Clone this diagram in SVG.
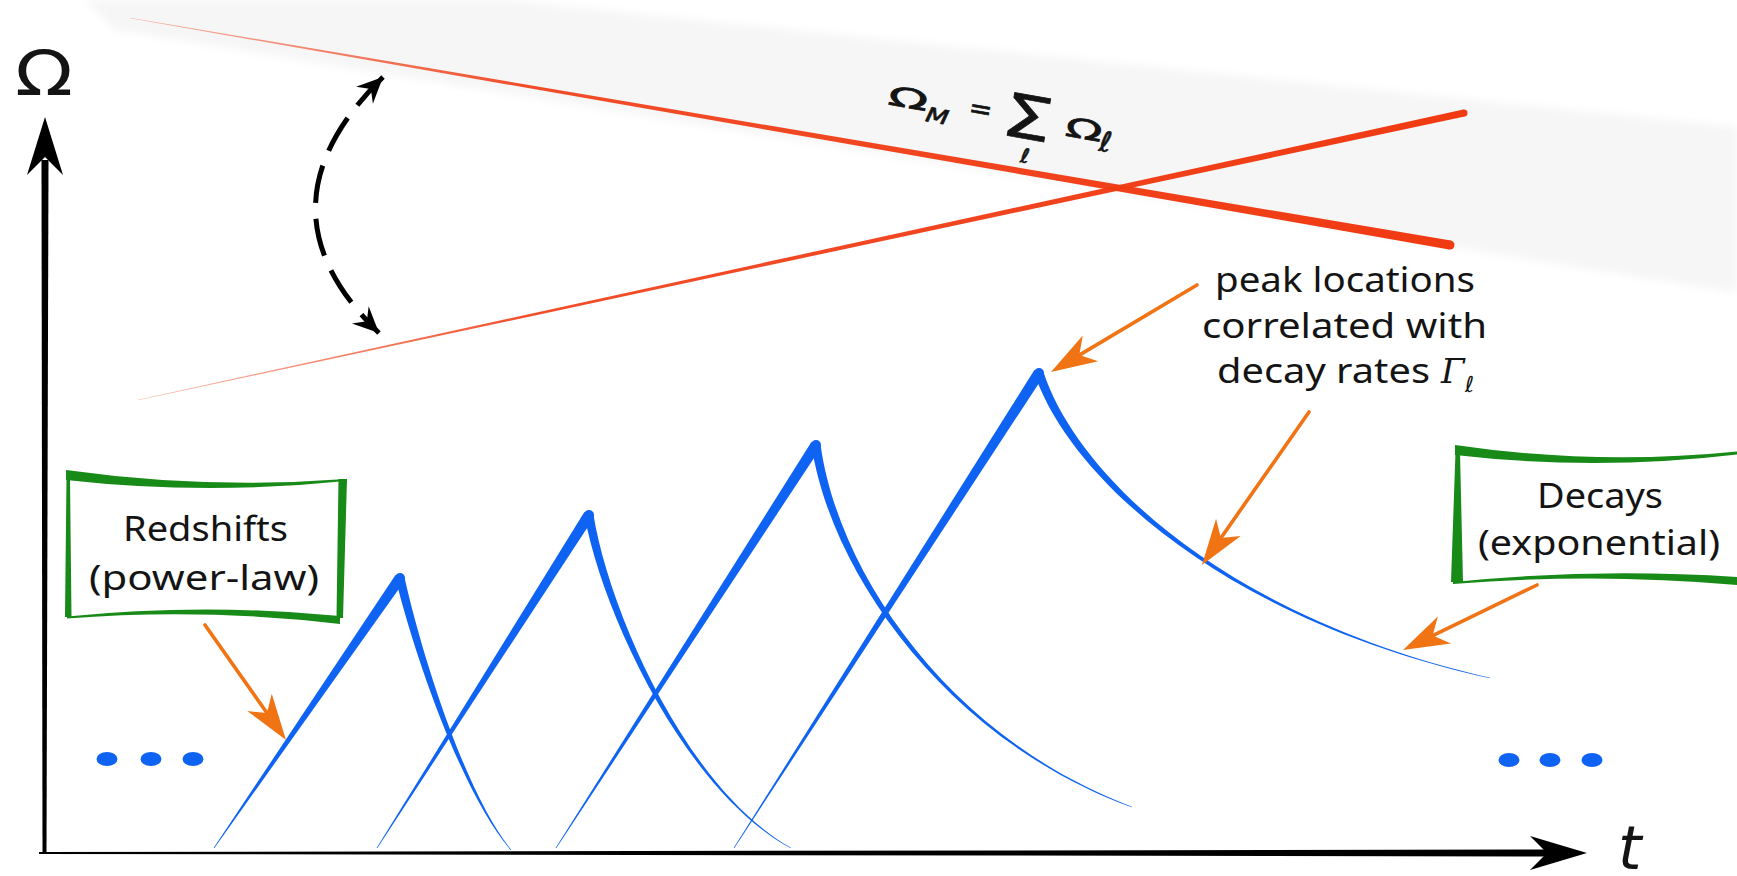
<svg xmlns="http://www.w3.org/2000/svg" width="1737" height="876" viewBox="0 0 1737 876">
<defs>
<style>
.lbl{font-family:"Noto Sans","DejaVu Sans",sans-serif;fill:#141414}
.math{font-family:"DejaVu Sans",sans-serif;fill:#141414}
.fm{font-family:"DejaVu Sans",sans-serif;fill:#141414;stroke:#141414;stroke-width:0.7}
.blue{fill:#0f63f2}
.green{fill:#188a18}
.oarrow{fill:none;stroke:#f07314;stroke-width:3.6;stroke-linecap:round;marker-end:url(#oa)}
</style>
<filter id="soft" x="-5%" y="-20%" width="110%" height="140%"><feGaussianBlur stdDeviation="4"/></filter>
<linearGradient id="gUp" gradientUnits="userSpaceOnUse" x1="130" y1="18" x2="1450" y2="245"><stop offset="0" stop-color="#f03a12" stop-opacity="0.35"/><stop offset="0.3" stop-color="#f03a12" stop-opacity="0.9"/><stop offset="1" stop-color="#f03a12"/></linearGradient>
<linearGradient id="gLo" gradientUnits="userSpaceOnUse" x1="138" y1="400" x2="1464" y2="113"><stop offset="0" stop-color="#f03a12" stop-opacity="0.35"/><stop offset="0.3" stop-color="#f03a12" stop-opacity="0.9"/><stop offset="1" stop-color="#f03a12"/></linearGradient>
<marker id="oa" markerUnits="userSpaceOnUse" viewBox="-50 -20 60 40" markerWidth="60" markerHeight="40" refX="-33" refY="0" orient="auto" overflow="visible"><path d="M0,0 L-46,-15 L-33,0 L-46,15 Z" fill="#f07314"/></marker>
<marker id="ka" markerUnits="userSpaceOnUse" viewBox="-30 -15 35 30" markerWidth="35" markerHeight="30" refX="0" refY="0" orient="auto-start-reverse" overflow="visible"><path d="M0,0 L-26,-12 L-17,0 L-26,12 Z" fill="#000"/></marker>
</defs>
<rect width="1737" height="876" fill="#fff"/>

<g id="band">
<polygon points="85,0 503,0 1737,127 1737,293 115,30" fill="#f6f6f6" filter="url(#soft)"/>
</g>

<g id="axes">
<polygon points="41.5,160 48.5,160 46.5,853 42.5,853" fill="#000"/>
<polygon points="45,117 63,175 45,157 27,175" fill="#000"/>
<polygon points="39,852 1550,849.5 1550,856.5 39,854" fill="#000"/>
<polygon points="1587,853 1530,836 1547,853 1530,870" fill="#000"/>
<text class="math" x="15" y="95" font-size="62" textLength="58" lengthAdjust="spacingAndGlyphs">Ω</text>
<text class="math" x="1618" y="869" font-size="60" font-style="italic">t</text>
</g>

<g id="red-lines">
<polygon points="129.95,18.3 1449.2,249.4 1450.8,240.6 130.05,17.7" fill="url(#gUp)"/>
<circle cx="1450" cy="245" r="4.5" fill="#f03a12"/>
<polygon points="138.06,400.29 1464.7,116.4 1463.3,109.6 137.94,399.71" fill="url(#gLo)"/>
<circle cx="1464" cy="113" r="3.5" fill="#f03a12"/>
</g>

<g id="formula" transform="rotate(10 1000 120)">
<text class="fm" x="886" y="124" font-size="27" textLength="40" lengthAdjust="spacingAndGlyphs">Ω</text>
<text class="fm" x="926" y="134" font-size="20" font-style="italic" textLength="23" lengthAdjust="spacingAndGlyphs">M</text>
<text class="fm" x="979" y="122" font-size="28" text-anchor="middle">=</text>
<text class="fm" x="1027" y="134" font-size="60" text-anchor="middle" textLength="50" lengthAdjust="spacingAndGlyphs">Σ</text>
<text class="fm" x="1031" y="158" font-size="20" text-anchor="middle">ℓ</text>
<text class="fm" x="1066" y="124" font-size="27" textLength="37" lengthAdjust="spacingAndGlyphs">Ω</text>
<text class="fm" x="1102" y="133" font-size="28">ℓ</text>
</g>

<g id="peak1">
<polygon class="blue" points="214.25,848.17 404.53,581.12 395.47,574.88 213.75,847.83"/>
<path class="blue" d="M404.4,577 C423.4,661.2 466.2,794 511.2,849.8 L510.8,850.2 C463.8,796 416.6,662.8 395.6,579 Z"/>
<circle class="blue" cx="400" cy="578" r="5"/>
</g>
<g id="peak2">
<polygon class="blue" points="377.25,848.16 593.64,517.95 584.36,512.05 376.75,847.84"/>
<path class="blue" d="M593.4,514.3 C608.5,609.4 685.7,788.7 791.1,847.7 L790.9,848.3 C684.3,791.3 601.6,610.6 584.6,515.7 Z"/>
<circle class="blue" cx="589" cy="515" r="5"/>
</g>
<g id="peak3">
<polygon class="blue" points="556.25,848.16 820.62,447.98 811.38,442.02 555.75,847.84"/>
<path class="blue" d="M820.5,444.4 C838.5,574.5 950.5,738.6 1132.1,806.7 L1131.9,807.3 C949.5,741.4 831.5,575.5 811.5,445.6 Z"/>
<circle class="blue" cx="816" cy="445" r="5"/>
</g>
<g id="peak4">
<polygon class="blue" points="734.25,848.16 1043.63,375.97 1034.37,370.03 733.75,847.84"/>
<path class="blue" d="M1043.3,371.6 C1078.3,478.9 1230.3,618.5 1490.1,677.7 L1489.9,678.3 C1229.7,621.5 1071.7,481.1 1034.7,374.4 Z"/>
<circle class="blue" cx="1039" cy="373" r="5"/>
</g>

<g id="dots-left">
<ellipse class="blue" cx="107" cy="759" rx="10.5" ry="7"/>
<ellipse class="blue" cx="151" cy="759" rx="10.5" ry="7"/>
<ellipse class="blue" cx="193" cy="759" rx="10.5" ry="7"/>
</g>
<g id="dots-right">
<ellipse class="blue" cx="1509" cy="760" rx="10.5" ry="7"/>
<ellipse class="blue" cx="1550" cy="760" rx="10.5" ry="7"/>
<ellipse class="blue" cx="1592" cy="760" rx="10.5" ry="7"/>
</g>

<g id="redshifts-box">
<path class="green" d="M66,470 Q205,489.5 346,479 L346,481 Q205,495.5 66,480 Z"/>
<path class="green" d="M66.5,478 L70,478 L71.5,617 L65,617 Z"/>
<path class="green" d="M338.5,479 L347,479 L343,618 L336.5,618 Z"/>
<path class="green" d="M67,616.5 Q203,602.75 340,616 L340,624 Q203,607.75 67,618.5 Z"/>
<text class="lbl" x="205.5" y="541" font-size="35" text-anchor="middle" textLength="165" lengthAdjust="spacingAndGlyphs">Redshifts</text>
<text class="lbl" x="204" y="590" font-size="35" text-anchor="middle" textLength="230" lengthAdjust="spacingAndGlyphs">(power-law)</text>
</g>

<g id="decays-box">
<path class="green" d="M1455,445 Q1596,465.75 1737,451.5 L1737,454.5 Q1596,471.25 1455,455 Z"/>
<path class="green" d="M1455.5,452 L1460,452 L1463,582 L1451,582 Z"/>
<path class="green" d="M1453,582 Q1595,567.5 1737,577 L1737,585 Q1595,572.5 1453,584 Z"/>
<text class="lbl" x="1600" y="508" font-size="35" text-anchor="middle" textLength="126" lengthAdjust="spacingAndGlyphs">Decays</text>
<text class="lbl" x="1599" y="555" font-size="35" text-anchor="middle" textLength="242" lengthAdjust="spacingAndGlyphs">(exponential)</text>
</g>

<g id="peak-note">
<text class="lbl" x="1345" y="292" font-size="34" text-anchor="middle" textLength="260" lengthAdjust="spacingAndGlyphs">peak locations</text>
<text class="lbl" x="1344.5" y="338" font-size="34" text-anchor="middle" textLength="285" lengthAdjust="spacingAndGlyphs">correlated with</text>
<text class="lbl" x="1217" y="383" font-size="34" textLength="213" lengthAdjust="spacingAndGlyphs">decay rates</text>
<text x="1441" y="383" font-size="34" font-style="italic" font-family="'DejaVu Serif',serif" fill="#141414">Γ</text>
<text x="1465" y="392" font-size="22" font-family="'DejaVu Sans',sans-serif" fill="#141414">ℓ</text>
</g>

<g id="connectors">
<path d="M383,77 Q250,208 379,333" fill="none" stroke="#000" stroke-width="5" stroke-dasharray="38 16" marker-start="url(#ka)" marker-end="url(#ka)"/>
<path class="oarrow" d="M205,625 L267,713"/>
<path class="oarrow" d="M1197,285 L1079.3,355.1"/>
<path class="oarrow" d="M1309,412 L1220.9,538"/>
<path class="oarrow" d="M1537,585 L1432.7,635.6"/>
</g>
</svg>
